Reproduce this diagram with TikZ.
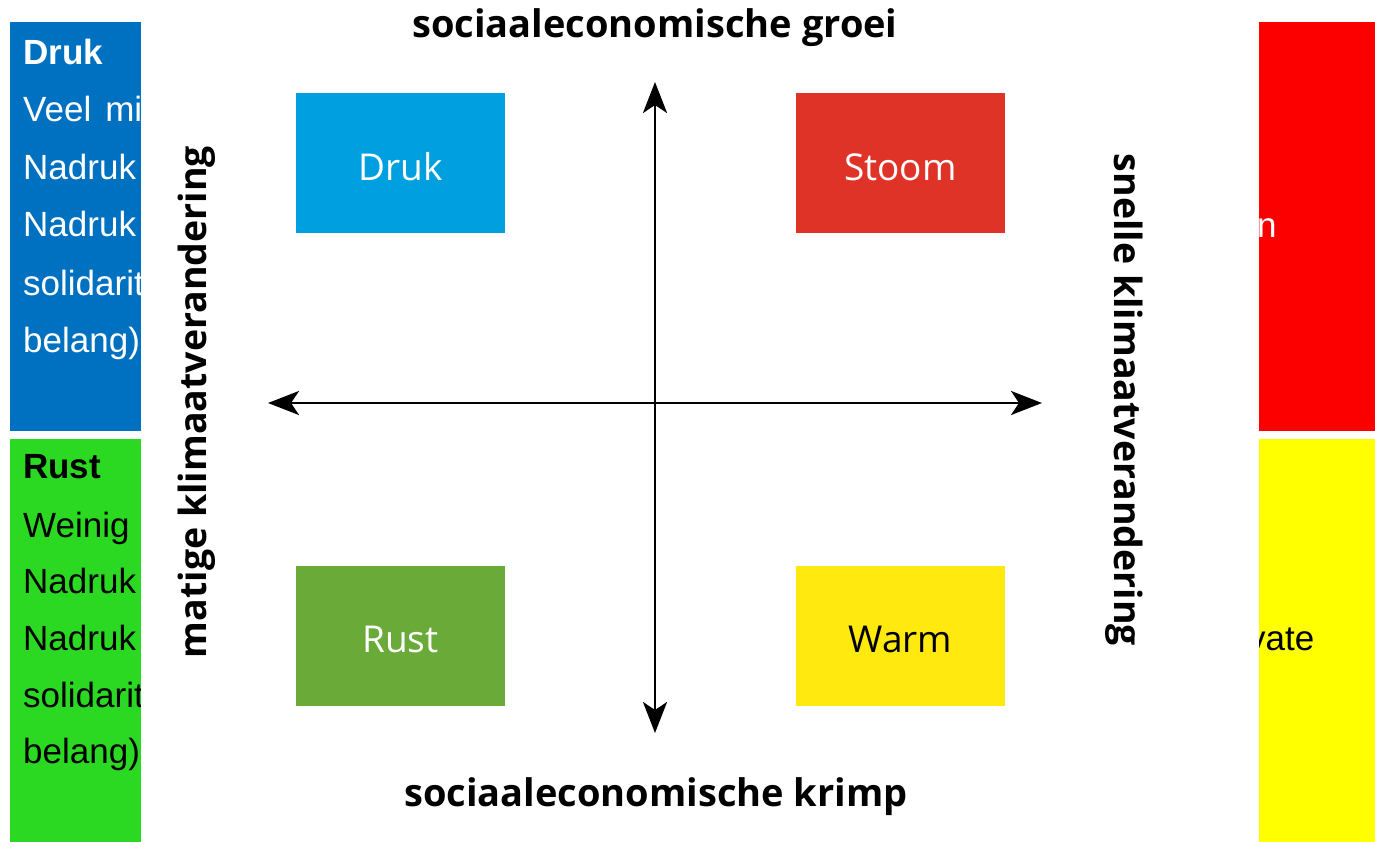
\documentclass[tikz,border=0pt]{standalone}
\usepackage{fontspec}
\setmainfont{Liberation Sans}
\newfontfamily\diagfont{Open Sans}
\usetikzlibrary{arrows.meta}
\definecolor{sideblue}{RGB}{0,112,192}
\definecolor{sidegreen}{RGB}{44,217,34}
\definecolor{sidered}{RGB}{252,0,0}
\definecolor{sideyellow}{RGB}{255,255,0}
\definecolor{boxblue}{RGB}{0,159,223}
\definecolor{boxred}{RGB}{224,51,40}
\definecolor{boxgreen}{RGB}{106,170,56}
\definecolor{boxyellow}{RGB}{255,233,15}
\newcommand{\qtxt}[1]{\raisebox{-4pt}[\height][\depth]{#1}}
\tikzset{
  x=1pt,y=-1pt,
  sidetxt/.style={anchor=base west,inner sep=0pt,font=\fontsize{35}{42}\selectfont},
  quad/.style={minimum width=209pt,minimum height=140pt,inner sep=0pt,font=\diagfont\fontsize{37}{40}\selectfont},
  axislabel/.style={inner sep=0pt,font=\diagfont\bfseries\fontsize{38}{42}\selectfont},
  sidelabel/.style={inner sep=0pt,font=\diagfont\bfseries\fontsize{37.5}{42}\selectfont},
  axis/.style={line width=2.8pt,{Stealth[length=31pt,width=24pt,inset=8pt]}-{Stealth[length=31pt,width=24pt,inset=8pt]}}
}
\begin{document}
\begin{tikzpicture}
\useasboundingbox (0,0) rectangle (1375,842);
\fill[white] (0,0) rectangle (1375,842);
% side panels
\fill[sideblue] (10,22) rectangle (160,431);
\fill[sidegreen] (10,439) rectangle (160,842);
\fill[sidered] (1240,22) rectangle (1375,431);
\fill[sideyellow] (1240,439) rectangle (1375,842);
% blue texts
\node[sidetxt,text=white,font=\bfseries\fontsize{35}{42}\selectfont] (b1) at (23,65) {Druk};
\node[sidetxt,text=white] (b2) at (23,122) {Veel\hspace{14pt}mi};
\node[sidetxt,text=white] (b3) at (23,180) {Nadruk};
\node[sidetxt,text=white] (b4) at (23,237) {Nadruk};
\node[sidetxt,text=white] (b5) at (23,295) {solidarit};
\node[sidetxt,text=white] (b6) at (23,352) {belang)};
% green texts
\node[sidetxt,text=black,font=\bfseries\fontsize{35}{42}\selectfont] (g1) at (23,478) {Rust};
\node[sidetxt] (g2) at (23,537) {Weinig};
\node[sidetxt] (g3) at (23,593) {Nadruk};
\node[sidetxt] (g4) at (23,650) {Nadruk};
\node[sidetxt] (g5) at (23,707) {solidarit};
\node[sidetxt] (g6) at (23,763) {belang)};
% right texts
\node[sidetxt,text=white] (r1) at (1257,238) {n};
\node[sidetxt] (y1) at (1248,650) {vate};
% white panel
\fill[white] (141,0) rectangle (1259,842);
% quadrant boxes
\node[quad,fill=boxblue,text=white] (druk) at (400.5,163) {\qtxt{Druk}};
\node[quad,fill=boxred,text=white] (stoom) at (900.5,163) {\qtxt{Stoom}};
\node[quad,fill=boxgreen,text=white] (rust) at (400.5,635.5) {\qtxt{Rust}};
\node[quad,fill=boxyellow,text=black] (warm) at (900.5,635.5) {\qtxt{Warm}};
% axes
\coordinate (atop) at (655,82);
\coordinate (abot) at (655,733);
\coordinate (aleft) at (268,403);
\coordinate (aright) at (1042,403);
\draw[axis] (abot) -- (atop);
\draw[axis] (aleft) -- (aright);
% labels
\node[axislabel] (groei) at (655,28) {sociaaleconomische groei};
\node[axislabel] (krimp) at (656,797) {sociaaleconomische krimp};
\node[sidelabel,rotate=90] (matig) at (197,402) {matige klimaatverandering};
\node[sidelabel,rotate=-90] (snel) at (1124,400) {snelle klimaatverandering};
\end{tikzpicture}
\end{document}
